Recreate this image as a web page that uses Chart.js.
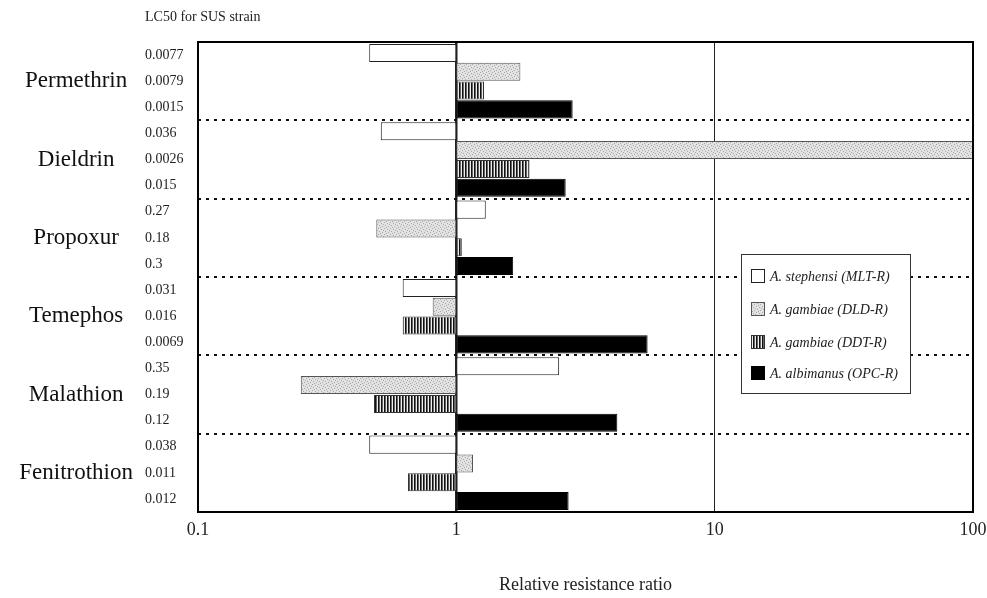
<!DOCTYPE html>
<html>
<head>
<meta charset="utf-8">
<script src="https://cdn.jsdelivr.net/npm/chart.js@4"></script>
<style>
  html, body { margin: 0; padding: 0; background: #fff; }
  #wrap { width: 987px; height: 598px; }
</style>
</head>
<body>
<div id="wrap"><canvas id="grafico"></canvas></div>
<script>
// dados
const insecticides = ['Permethrin', 'Dieldrin', 'Propoxur', 'Temephos', 'Malathion', 'Fenitrothion'];
const lc50Labels = ['0.0077', '0.0079', '0.0015', '0.036', '0.0026', '0.015', '0.27', '0.18', '0.3',
                    '0.031', '0.016', '0.0069', '0.35', '0.19', '0.12', '0.038', '0.011', '0.012'];
const seriesNames = ['A. stephensi (MLT-R)', 'A. gambiae (DLD-R)', 'A. gambiae (DDT-R)', 'A. albimanus (OPC-R)'];
const stephensiMLT = [0.46, 0.51, 1.30, 0.62, 2.5, 0.46];
const gambiaeDLD = [1.77, 100, 0.49, 0.81, 0.25, 1.16];
const gambiaeDDT = [1.28, 1.92, 1.05, 0.62, 0.48, 0.65];
const albimanusOPC = [2.82, 2.65, 1.66, 5.5, 4.2, 2.72];
const xTicks = [0.1, 1, 10, 100];

const serif = "'Liberation Serif', 'DejaVu Serif', serif";

// padrões de preenchimento (pontilhado e listrado)
function padraoPontilhado() {
  const c = document.createElement('canvas');
  c.width = 6; c.height = 6;
  const g = c.getContext('2d');
  g.fillStyle = '#e2e2e2';
  g.fillRect(0, 0, 6, 6);
  g.fillStyle = '#a8a8a8';
  [[0, 0], [3, 1], [1, 3], [4, 4], [5, 2], [2, 5]].forEach(p => g.fillRect(p[0], p[1], 1, 1));
  return g.createPattern(c, 'repeat');
}
function padraoListrado() {
  const c = document.createElement('canvas');
  c.width = 3; c.height = 3;
  const g = c.getContext('2d');
  g.fillStyle = '#eeeeee'; g.fillRect(0, 0, 3, 3);
  g.fillStyle = '#111111'; g.fillRect(0, 0, 1, 3);
  g.fillStyle = '#666666'; g.fillRect(1, 0, 1, 3);
  return g.createPattern(c, 'repeat');
}

const fills = ['#ffffff', padraoPontilhado(), padraoListrado(), '#000000'];
const borders = ['#222222', '#555555', '#333333', '#000000'];
const valores = [stephensiMLT, gambiaeDLD, gambiaeDDT, albimanusOPC];

// moldura, título do LC50 e legenda desenhados por cima
const extras = {
  id: 'extras',
  afterDraw(chart) {
    const { ctx, chartArea: a } = chart;
    const y2 = chart.scales.y2;
    ctx.save();
    ctx.fillStyle = '#222';
    ctx.font = '14px ' + serif;
    ctx.textBaseline = 'middle';
    ctx.textAlign = 'left';
    ctx.fillText('LC50 for SUS strain', y2.left, 17);

    ctx.strokeStyle = '#000';
    ctx.lineWidth = 2;
    ctx.strokeRect(a.left, a.top, a.right - a.left, a.bottom - a.top);

    // legenda
    const lx = 741, ly = 254, lw = 169, lh = 139;
    ctx.fillStyle = '#fff';
    ctx.fillRect(lx, ly, lw, lh);
    ctx.lineWidth = 1;
    ctx.strokeStyle = '#333';
    ctx.strokeRect(lx + 0.5, ly + 0.5, lw, lh);
    const ys = [276, 309, 342, 373];
    chart.data.datasets.forEach((ds, i) => {
      ctx.fillStyle = ds.backgroundColor;
      ctx.fillRect(751, ys[i] - 7, 14, 14);
      ctx.strokeStyle = ds.borderColor;
      ctx.strokeRect(751.5, ys[i] - 6.5, 13, 13);
      ctx.fillStyle = '#222';
      ctx.font = 'italic 14px ' + serif;
      ctx.fillText(ds.label, 770, ys[i] + 1);
    });
    ctx.restore();
  }
};

new Chart(document.getElementById('grafico'), {
  type: 'bar',
  data: {
    labels: insecticides,
    datasets: valores.map((arr, i) => ({
      label: seriesNames[i],
      data: arr.map(v => [1, v]),
      backgroundColor: fills[i],
      borderColor: borders[i],
      borderWidth: 1,
      borderSkipped: false,
      categoryPercentage: 0.96,
      barPercentage: 0.96
    }))
  },
  options: {
    indexAxis: 'y',
    responsive: true,
    maintainAspectRatio: false,
    animation: false,
    layout: { padding: { top: 42, right: 2, left: 0, bottom: 0 } },
    plugins: {
      legend: { display: false },
      tooltip: { enabled: false }
    },
    scales: {
      x: {
        type: 'logarithmic',
        min: 0.1,
        max: 100,
        afterBuildTicks: axis => { axis.ticks = xTicks.map(v => ({ value: v })); },
        afterFit: axis => {
          axis.height = 86;
          axis.paddingRight = 14; // deixa o 100 encostar na borda como no original
        },
        ticks: {
          color: '#222',
          font: { family: serif, size: 18 },
          padding: 7,
          callback: v => String(v)
        },
        grid: {
          color: '#222',
          lineWidth: c => (c.tick && c.tick.value === 1 ? 2.5 : 1),
          drawTicks: false
        },
        border: { display: false },
        title: {
          display: true,
          text: 'Relative resistance ratio',
          color: '#222',
          font: { family: serif, size: 18 },
          padding: { top: 0, bottom: 2 }
        }
      },
      y: {
        weight: 10,
        afterFit: axis => { axis.width = 145; },
        ticks: {
          color: '#111',
          font: { family: serif, size: 23 },
          crossAlign: 'center',
          padding: 12
        },
        grid: {
          offset: true,
          color: '#111',
          lineWidth: 2,
          drawTicks: false
        },
        border: { display: false, dash: [3, 5] }
      },
      y2: {
        type: 'category',
        labels: lc50Labels,
        position: 'left',
        weight: 0,
        offset: true,
        afterFit: axis => { axis.width = 53; },
        ticks: {
          color: '#222',
          font: { family: serif, size: 14 },
          crossAlign: 'far',
          padding: 0,
          autoSkip: false
        },
        grid: { display: false, drawTicks: false },
        border: { display: false }
      }
    }
  },
  plugins: [extras]
});
</script>
</body>
</html>
